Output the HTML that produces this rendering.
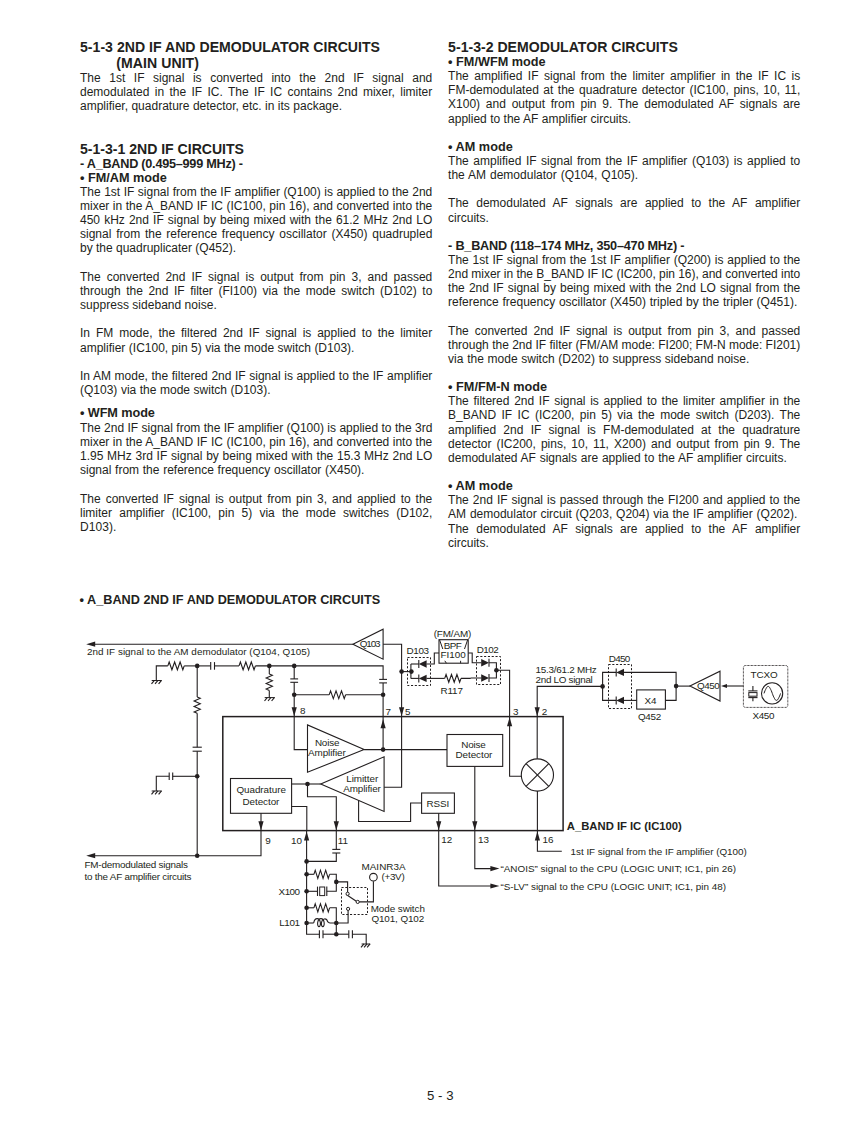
<!DOCTYPE html>
<html lang="en">
<head>
<meta charset="utf-8">
<title>5-1-3 2ND IF AND DEMODULATOR CIRCUITS</title>
<style>
html,body{margin:0;padding:0;background:#fff;}
body{width:841px;height:1122px;position:relative;overflow:hidden;font-family:"Liberation Sans",sans-serif;color:#231f20;}
.t{position:absolute;white-space:nowrap;line-height:1;margin:0;padding:0;}
svg{position:absolute;left:0;top:0;}
svg text{font-family:"Liberation Sans",sans-serif;font-size:9.89px;fill:#231f20;}
</style>
</head>
<body>
<div class="t" style="left:80.00px;top:39.56px;font-size:14.1px;font-weight:bold;letter-spacing:0.0100px;">5-1-3 2ND IF AND DEMODULATOR CIRCUITS</div>
<div class="t" style="left:116.20px;top:55.86px;font-size:14.1px;font-weight:bold;letter-spacing:0.0597px;">(MAIN UNIT)</div>
<div class="t" style="left:80.00px;top:72.04px;font-size:12.0px;word-spacing:5.223px;">The 1st IF signal is converted into the 2nd IF signal and</div>
<div class="t" style="left:80.00px;top:86.18px;font-size:12.0px;word-spacing:2.033px;">demodulated in the IF IC. The IF IC contains 2nd mixer, limiter</div>
<div class="t" style="left:80.00px;top:100.32px;font-size:12.0px;word-spacing:0.086px;">amplifier, quadrature detector, etc. in its package.</div>
<div class="t" style="left:80.00px;top:142.46px;font-size:14.1px;font-weight:bold;letter-spacing:-0.0206px;">5-1-3-1 2ND IF CIRCUITS</div>
<div class="t" style="left:80.00px;top:158.05px;font-size:12.7px;font-weight:bold;letter-spacing:-0.2581px;">- A_BAND (0.495–999 MHz) -</div>
<div class="t" style="left:80.00px;top:172.05px;font-size:12.7px;font-weight:bold;letter-spacing:-0.0006px;">• FM/AM mode</div>
<div class="t" style="left:80.00px;top:185.84px;font-size:12.0px;word-spacing:0.164px;">The 1st IF signal from the IF amplifier (Q100) is applied to the 2nd</div>
<div class="t" style="left:80.00px;top:200.00px;font-size:12.0px;word-spacing:0.176px;">mixer in the A_BAND IF IC (IC100, pin 16), and converted into the</div>
<div class="t" style="left:80.00px;top:214.16px;font-size:12.0px;word-spacing:0.778px;">450 kHz 2nd IF signal by being mixed with the 61.2 MHz 2nd LO</div>
<div class="t" style="left:80.00px;top:228.32px;font-size:12.0px;word-spacing:1.445px;">signal from the reference frequency oscillator (X450) quadrupled</div>
<div class="t" style="left:80.00px;top:242.48px;font-size:12.0px;letter-spacing:-0.0033px;">by the quadruplicater (Q452).</div>
<div class="t" style="left:80.00px;top:270.80px;font-size:12.0px;word-spacing:2.676px;">The converted 2nd IF signal is output from pin 3, and passed</div>
<div class="t" style="left:80.00px;top:284.96px;font-size:12.0px;word-spacing:2.195px;">through the 2nd IF filter (FI100) via the mode switch (D102) to</div>
<div class="t" style="left:80.00px;top:299.12px;font-size:12.0px;letter-spacing:0.0307px;">suppress sideband noise.</div>
<div class="t" style="left:80.00px;top:327.44px;font-size:12.0px;word-spacing:2.567px;">In FM mode, the filtered 2nd IF signal is applied to the limiter</div>
<div class="t" style="left:80.00px;top:341.60px;font-size:12.0px;word-spacing:0.118px;">amplifier (IC100, pin 5) via the mode switch (D103).</div>
<div class="t" style="left:80.00px;top:369.92px;font-size:12.0px;word-spacing:0.266px;">In AM mode, the filtered 2nd IF signal is applied to the IF amplifier</div>
<div class="t" style="left:80.00px;top:384.08px;font-size:12.0px;word-spacing:0.216px;">(Q103) via the mode switch (D103).</div>
<div class="t" style="left:80.00px;top:407.45px;font-size:12.7px;font-weight:bold;letter-spacing:-0.0806px;">• WFM mode</div>
<div class="t" style="left:80.00px;top:421.99px;font-size:12.0px;word-spacing:0.062px;">The 2nd IF signal from the IF amplifier (Q100) is applied to the 3rd</div>
<div class="t" style="left:80.00px;top:436.14px;font-size:12.0px;word-spacing:0.176px;">mixer in the A_BAND IF IC (IC100, pin 16), and converted into the</div>
<div class="t" style="left:80.00px;top:450.29px;font-size:12.0px;word-spacing:0.420px;">1.95 MHz 3rd IF signal by being mixed with the 15.3 MHz 2nd LO</div>
<div class="t" style="left:80.00px;top:464.44px;font-size:12.0px;word-spacing:0.377px;">signal from the reference frequency oscillator (X450).</div>
<div class="t" style="left:80.00px;top:492.74px;font-size:12.0px;word-spacing:1.619px;">The converted IF signal is output from pin 3, and applied to the</div>
<div class="t" style="left:80.00px;top:506.89px;font-size:12.0px;word-spacing:3.870px;">limiter amplifier (IC100, pin 5) via the mode switches (D102,</div>
<div class="t" style="left:80.00px;top:521.04px;font-size:12.0px;letter-spacing:0.0738px;">D103).</div>
<div class="t" style="left:448.10px;top:39.56px;font-size:14.1px;font-weight:bold;">5-1-3-2 DEMODULATOR CIRCUITS</div>
<div class="t" style="left:448.10px;top:55.79px;font-size:12.7px;font-weight:bold;">• FM/WFM mode</div>
<div class="t" style="left:448.10px;top:70.12px;font-size:12.0px;word-spacing:2.174px;">The amplified IF signal from the limiter amplifier in the IF IC is</div>
<div class="t" style="left:448.10px;top:84.26px;font-size:12.0px;word-spacing:1.193px;">FM-demodulated at the quadrature detector (IC100, pins, 10, 11,</div>
<div class="t" style="left:448.10px;top:98.40px;font-size:12.0px;word-spacing:2.422px;">X100) and output from pin 9. The demodulated AF signals are</div>
<div class="t" style="left:448.10px;top:112.54px;font-size:12.0px;word-spacing:0.070px;">applied to the AF amplifier circuits.</div>
<div class="t" style="left:448.10px;top:140.63px;font-size:12.7px;font-weight:bold;">• AM mode</div>
<div class="t" style="left:448.10px;top:154.96px;font-size:12.0px;word-spacing:1.217px;">The amplified IF signal from the IF amplifier (Q103) is applied to</div>
<div class="t" style="left:448.10px;top:169.10px;font-size:12.0px;word-spacing:0.616px;">the AM demodulator (Q104, Q105).</div>
<div class="t" style="left:448.10px;top:197.38px;font-size:12.0px;word-spacing:4.149px;">The demodulated AF signals are applied to the AF amplifier</div>
<div class="t" style="left:448.10px;top:211.52px;font-size:12.0px;">circuits.</div>
<div class="t" style="left:448.10px;top:239.61px;font-size:12.7px;font-weight:bold;letter-spacing:-0.2330px;">- B_BAND (118–174 MHz, 350–470 MHz) -</div>
<div class="t" style="left:448.10px;top:253.94px;font-size:12.0px;word-spacing:0.465px;">The 1st IF signal from the 1st IF amplifier (Q200) is applied to the</div>
<div class="t" style="left:448.10px;top:268.08px;font-size:12.0px;letter-spacing:-0.0311px;">2nd mixer in the B_BAND IF IC (IC200, pin 16), and converted into</div>
<div class="t" style="left:448.10px;top:282.22px;font-size:12.0px;word-spacing:0.769px;">the 2nd IF signal by being mixed with the 2nd LO signal from the</div>
<div class="t" style="left:448.10px;top:296.36px;font-size:12.0px;word-spacing:0.379px;">reference frequency oscillator (X450) tripled by the tripler (Q451).</div>
<div class="t" style="left:448.10px;top:324.64px;font-size:12.0px;word-spacing:2.667px;">The converted 2nd IF signal is output from pin 3, and passed</div>
<div class="t" style="left:448.10px;top:338.78px;font-size:12.0px;word-spacing:0.007px;">through the 2nd IF filter (FM/AM mode: FI200; FM-N mode: FI201)</div>
<div class="t" style="left:448.10px;top:352.92px;font-size:12.0px;word-spacing:0.379px;">via the mode switch (D202) to suppress sideband noise.</div>
<div class="t" style="left:448.10px;top:381.01px;font-size:12.7px;font-weight:bold;">• FM/FM-N mode</div>
<div class="t" style="left:448.10px;top:395.34px;font-size:12.0px;word-spacing:1.336px;">The filtered 2nd IF signal is applied to the limiter amplifier in the</div>
<div class="t" style="left:448.10px;top:409.48px;font-size:12.0px;word-spacing:2.086px;">B_BAND IF IC (IC200, pin 5) via the mode switch (D203). The</div>
<div class="t" style="left:448.10px;top:423.62px;font-size:12.0px;word-spacing:3.920px;">amplified 2nd IF signal is FM-demodulated at the quadrature</div>
<div class="t" style="left:448.10px;top:437.76px;font-size:12.0px;word-spacing:1.737px;">detector (IC200, pins, 10, 11, X200) and output from pin 9. The</div>
<div class="t" style="left:448.10px;top:451.90px;font-size:12.0px;word-spacing:0.428px;">demodulated AF signals are applied to the AF amplifier circuits.</div>
<div class="t" style="left:448.10px;top:479.99px;font-size:12.7px;font-weight:bold;">• AM mode</div>
<div class="t" style="left:448.10px;top:494.32px;font-size:12.0px;word-spacing:0.718px;">The 2nd IF signal is passed through the FI200 and applied to the</div>
<div class="t" style="left:448.10px;top:508.46px;font-size:12.0px;word-spacing:0.487px;">AM demodulator circuit (Q203, Q204) via the IF amplifier (Q202).</div>
<div class="t" style="left:448.10px;top:522.60px;font-size:12.0px;word-spacing:4.149px;">The demodulated AF signals are applied to the AF amplifier</div>
<div class="t" style="left:448.10px;top:536.74px;font-size:12.0px;">circuits.</div>
<div class="t" style="left:79.50px;top:594.25px;font-size:12.7px;font-weight:bold;letter-spacing:0.0030px;">• A_BAND 2ND IF AND DEMODULATOR CIRCUITS</div>
<div class="t" style="left:427.10px;top:1088.93px;font-size:13.2px;letter-spacing:0.0023px;">5 - 3</div>
<svg width="841" height="1122" viewBox="0 0 841 1122">
<polyline points="94,644.2 352.9,644.2" fill="none" stroke="#231f20" stroke-width="1.1" />
<polygon points="86.2,644.2 95.2,641.6 95.2,646.8" fill="#231f20" stroke="none" stroke-width="1.1" stroke-linejoin="miter"/>
<polygon points="352.9,644.2 383.1,629.2 383.1,659.2" fill="none" stroke="#231f20" stroke-width="1.1" stroke-linejoin="miter"/>
<text x="359.8" y="646.8" textLength="20.81" lengthAdjust="spacing">Q103</text>
<text x="87" y="655.1" textLength="222.98" lengthAdjust="spacing">2nd IF signal to the AM demodulator (Q104, Q105)</text>
<polyline points="383.1,644.2 401.6,644.2 401.6,787.3 384.1,787.3" fill="none" stroke="#231f20" stroke-width="1.1" />
<polygon points="401.6,716.3 399,707.3 404.2,707.3" fill="#231f20" stroke="none" stroke-width="1.1" stroke-linejoin="miter"/>
<polyline points="156.3,680.5 156.3,665.9 167.8,665.9" fill="none" stroke="#231f20" stroke-width="1.1" />
<polyline points="151.7,680.5 161.7,680.5" fill="none" stroke="#231f20" stroke-width="1.0" />
<polyline points="154.4,680.3 151.5,683.9" fill="none" stroke="#231f20" stroke-width="1.15" />
<polyline points="157.95,680.3 155.05,683.9" fill="none" stroke="#231f20" stroke-width="1.15" />
<polyline points="161.5,680.3 158.6,683.9" fill="none" stroke="#231f20" stroke-width="1.15" />
<polyline points="167.8,665.9 169.17,662 171.9,669.8 174.63,662 177.37,669.8 180.1,662 182.83,669.8 184.2,665.9" fill="none" stroke="#231f20" stroke-width="1.1" stroke-linejoin="miter"/>
<polyline points="184.2,665.9 210.7,665.9" fill="none" stroke="#231f20" stroke-width="1.1" />
<circle cx="197.2" cy="665.9" r="2.3" fill="#231f20"/>
<polyline points="210.7,662.1 210.7,669.7" fill="none" stroke="#231f20" stroke-width="1.1" />
<polyline points="214.5,662.1 214.5,669.7" fill="none" stroke="#231f20" stroke-width="1.1" />
<polyline points="214.5,665.9 239,665.9" fill="none" stroke="#231f20" stroke-width="1.1" />
<polyline points="239,665.9 240.37,662 243.1,669.8 245.83,662 248.57,669.8 251.3,662 254.03,669.8 255.4,665.9" fill="none" stroke="#231f20" stroke-width="1.1" stroke-linejoin="miter"/>
<polyline points="255.4,665.9 383.1,665.9 383.1,679.4" fill="none" stroke="#231f20" stroke-width="1.1" />
<circle cx="269.3" cy="665.9" r="2.3" fill="#231f20"/>
<circle cx="294.2" cy="665.9" r="2.3" fill="#231f20"/>
<polyline points="269.3,665.9 269.3,674" fill="none" stroke="#231f20" stroke-width="1.1" />
<polyline points="269.3,674 272.4,675.37 266.2,678.1 272.4,680.83 266.2,683.57 272.4,686.3 266.2,689.03 269.3,690.4" fill="none" stroke="#231f20" stroke-width="1.1" stroke-linejoin="miter"/>
<polyline points="269.3,690.4 269.3,697.6" fill="none" stroke="#231f20" stroke-width="1.1" />
<polyline points="264.7,697.6 274.7,697.6" fill="none" stroke="#231f20" stroke-width="1.0" />
<polyline points="267.4,697.4 264.5,701" fill="none" stroke="#231f20" stroke-width="1.15" />
<polyline points="270.95,697.4 268.05,701" fill="none" stroke="#231f20" stroke-width="1.15" />
<polyline points="274.5,697.4 271.6,701" fill="none" stroke="#231f20" stroke-width="1.15" />
<polyline points="294.2,665.9 294.2,678.9" fill="none" stroke="#231f20" stroke-width="1.1" />
<polyline points="290.3,678.9 298.1,678.9" fill="none" stroke="#231f20" stroke-width="1.1" />
<polyline points="290.3,682.3 298.1,682.3" fill="none" stroke="#231f20" stroke-width="1.1" />
<polyline points="294.2,682.3 294.2,749.6 307.5,749.6" fill="none" stroke="#231f20" stroke-width="1.1" />
<circle cx="294.2" cy="694.7" r="2.3" fill="#231f20"/>
<polygon points="294.2,716.3 291.6,707.3 296.8,707.3" fill="#231f20" stroke="none" stroke-width="1.1" stroke-linejoin="miter"/>
<polyline points="294.2,694.7 329.2,694.7" fill="none" stroke="#231f20" stroke-width="1.1" />
<polyline points="329.2,694.7 330.57,690.8 333.3,698.6 336.03,690.8 338.77,698.6 341.5,690.8 344.23,698.6 345.6,694.7" fill="none" stroke="#231f20" stroke-width="1.1" stroke-linejoin="miter"/>
<polyline points="345.6,694.7 383.1,694.7" fill="none" stroke="#231f20" stroke-width="1.1" />
<circle cx="383.1" cy="694.7" r="2.3" fill="#231f20"/>
<polyline points="379.2,679.4 387,679.4" fill="none" stroke="#231f20" stroke-width="1.1" />
<polyline points="379.2,682.9 387,682.9" fill="none" stroke="#231f20" stroke-width="1.1" />
<polyline points="383.1,682.9 383.1,749.6" fill="none" stroke="#231f20" stroke-width="1.1" />
<polygon points="383.1,719.2 380.5,728.2 385.7,728.2" fill="#231f20" stroke="none" stroke-width="1.1" stroke-linejoin="miter"/>
<polyline points="197.2,665.9 197.2,696.9" fill="none" stroke="#231f20" stroke-width="1.1" />
<polyline points="197.2,696.9 200.3,698.27 194.1,701 200.3,703.73 194.1,706.47 200.3,709.2 194.1,711.93 197.2,713.3" fill="none" stroke="#231f20" stroke-width="1.1" stroke-linejoin="miter"/>
<polyline points="197.2,713.3 197.2,747.2" fill="none" stroke="#231f20" stroke-width="1.1" />
<polyline points="192.6,747.2 201.8,747.2" fill="none" stroke="#231f20" stroke-width="1.1" />
<polyline points="192.6,751.2 201.8,751.2" fill="none" stroke="#231f20" stroke-width="1.1" />
<polyline points="197.2,751.2 197.2,855.7" fill="none" stroke="#231f20" stroke-width="1.1" />
<circle cx="197.2" cy="776.3" r="2.3" fill="#231f20"/>
<circle cx="197.2" cy="855.7" r="2.3" fill="#231f20"/>
<polyline points="197.2,776.3 172.7,776.3" fill="none" stroke="#231f20" stroke-width="1.1" />
<polyline points="169.2,772.5 169.2,780.1" fill="none" stroke="#231f20" stroke-width="1.1" />
<polyline points="172.7,772.5 172.7,780.1" fill="none" stroke="#231f20" stroke-width="1.1" />
<polyline points="169.2,776.3 156.3,776.3 156.3,791" fill="none" stroke="#231f20" stroke-width="1.1" />
<polyline points="151.7,791 161.7,791" fill="none" stroke="#231f20" stroke-width="1.0" />
<polyline points="154.4,790.8 151.5,794.4" fill="none" stroke="#231f20" stroke-width="1.15" />
<polyline points="157.95,790.8 155.05,794.4" fill="none" stroke="#231f20" stroke-width="1.15" />
<polyline points="161.5,790.8 158.6,794.4" fill="none" stroke="#231f20" stroke-width="1.15" />
<polyline points="94,855.7 261,855.7 261,830.6" fill="none" stroke="#231f20" stroke-width="1.1" />
<polygon points="86.2,855.7 95.2,853.1 95.2,858.3" fill="#231f20" stroke="none" stroke-width="1.1" stroke-linejoin="miter"/>
<text x="84.5" y="868.1" textLength="103.5" lengthAdjust="spacing">FM-demodulated signals</text>
<text x="84.5" y="880.1" textLength="107" lengthAdjust="spacing">to the AF amplifier circuits</text>
<rect x="222.8" y="716.6" width="340.3" height="114" fill="none" stroke="#231f20" stroke-width="1.5" />
<text x="566.8" y="830.1" textLength="115.08" lengthAdjust="spacing" font-weight="bold" style="font-size:11.3px">A_BAND IF IC (IC100)</text>
<text x="300" y="713.6">8</text>
<text x="385.6" y="714.6">7</text>
<text x="405" y="714.6">5</text>
<text x="513.1" y="715">3</text>
<text x="541.8" y="715">2</text>
<text x="265.3" y="843.7">9</text>
<text x="291" y="844">10</text>
<text x="337.8" y="844">11</text>
<text x="441.2" y="843.2">12</text>
<text x="477.9" y="843.2">13</text>
<text x="542.6" y="843.2">16</text>
<rect x="230.5" y="778.5" width="61.1" height="34.8" fill="none" stroke="#231f20" stroke-width="1.1" />
<text x="236.4" y="792.8" textLength="49.51" lengthAdjust="spacing">Quadrature</text>
<text x="242.5" y="804.8" textLength="36.88" lengthAdjust="spacing">Detector</text>
<polyline points="261,813.2 261,830.6" fill="none" stroke="#231f20" stroke-width="1.1" />
<polygon points="261,830.3 258.4,821.3 263.6,821.3" fill="#231f20" stroke="none" stroke-width="1.1" stroke-linejoin="miter"/>
<polyline points="291.6,784 320.7,784" fill="none" stroke="#231f20" stroke-width="1.1" />
<circle cx="307.5" cy="784" r="2.3" fill="#231f20"/>
<polyline points="307.5,784 307.5,796.8 336.3,796.8 336.3,830.6" fill="none" stroke="#231f20" stroke-width="1.1" />
<polygon points="336.3,830.3 333.7,821.3 338.9,821.3" fill="#231f20" stroke="none" stroke-width="1.1" stroke-linejoin="miter"/>
<polyline points="291.6,806.5 306.8,806.5 306.8,830.6" fill="none" stroke="#231f20" stroke-width="1.1" />
<polygon points="307.5,724.9 307.5,772.3 364.1,749.6" fill="none" stroke="#231f20" stroke-width="1.1" stroke-linejoin="miter"/>
<text x="314.9" y="745.7" textLength="24.51" lengthAdjust="spacing">Noise</text>
<text x="308" y="756" textLength="37.68" lengthAdjust="spacing">Amplifier</text>
<polyline points="364.1,749.6 447,749.6" fill="none" stroke="#231f20" stroke-width="1.1" />
<circle cx="383.1" cy="749.6" r="2.3" fill="#231f20"/>
<polygon points="384.1,756.8 384.1,811.5 320.7,784" fill="none" stroke="#231f20" stroke-width="1.1" stroke-linejoin="miter"/>
<text x="346.2" y="781.6" textLength="31.98" lengthAdjust="spacing">Limitter</text>
<text x="343.2" y="791.9" textLength="37.68" lengthAdjust="spacing">Amplifier</text>
<rect x="421.6" y="793" width="32.8" height="20.3" fill="none" stroke="#231f20" stroke-width="1.1" />
<text x="426.6" y="807.1" textLength="22.68" lengthAdjust="spacing">RSSI</text>
<polyline points="358.6,800.5 358.6,821.5 410.6,821.5 410.6,803 421.6,803" fill="none" stroke="#231f20" stroke-width="1.1" />
<polyline points="438.7,813.3 438.7,886 491,886" fill="none" stroke="#231f20" stroke-width="1.1" />
<polygon points="438.7,830.3 436.1,821.3 441.3,821.3" fill="#231f20" stroke="none" stroke-width="1.1" stroke-linejoin="miter"/>
<polygon points="499.4,886 490.4,883.4 490.4,888.6" fill="#231f20" stroke="none" stroke-width="1.1" stroke-linejoin="miter"/>
<rect x="447" y="734.5" width="55.7" height="31.9" fill="none" stroke="#231f20" stroke-width="1.1" />
<text x="461.2" y="747.9" textLength="24.51" lengthAdjust="spacing">Noise</text>
<text x="455.5" y="758.1" textLength="36.88" lengthAdjust="spacing">Detector</text>
<polyline points="474.8,766.4 474.8,868.6 491,868.6" fill="none" stroke="#231f20" stroke-width="1.1" />
<polygon points="474.8,830.3 472.2,821.3 477.4,821.3" fill="#231f20" stroke="none" stroke-width="1.1" stroke-linejoin="miter"/>
<polygon points="499.4,868.6 490.4,866 490.4,871.2" fill="#231f20" stroke="none" stroke-width="1.1" stroke-linejoin="miter"/>
<text x="500.4" y="872.2" textLength="235.68" lengthAdjust="spacing">“ANOIS” signal to the CPU (LOGIC UNIT; IC1, pin 26)</text>
<text x="500.4" y="890.1" textLength="225.68" lengthAdjust="spacing">“S-LV” signal to the CPU (LOGIC UNIT; IC1, pin 48)</text>
<polyline points="537.2,758.8 537.2,686.4 602.6,686.4" fill="none" stroke="#231f20" stroke-width="1.1" />
<polygon points="537.2,716.3 534.6,707.3 539.8,707.3" fill="#231f20" stroke="none" stroke-width="1.1" stroke-linejoin="miter"/>
<circle cx="537.4" cy="775" r="16.1" fill="none" stroke="#231f20" stroke-width="1.1"/>
<polyline points="526.02,763.62 548.78,786.38" fill="none" stroke="#231f20" stroke-width="1.1" />
<polyline points="526.02,786.38 548.78,763.62" fill="none" stroke="#231f20" stroke-width="1.1" />
<polyline points="521.3,776.2 509.6,776.2 509.6,670.2 496.4,670.2" fill="none" stroke="#231f20" stroke-width="1.1" />
<polygon points="509.6,717.2 507,726.2 512.2,726.2" fill="#231f20" stroke="none" stroke-width="1.1" stroke-linejoin="miter"/>
<polyline points="537.4,791.1 537.4,851.3 561.8,851.3" fill="none" stroke="#231f20" stroke-width="1.1" />
<polygon points="537.4,831.5 534.8,840.5 540,840.5" fill="#231f20" stroke="none" stroke-width="1.1" stroke-linejoin="miter"/>
<text x="570.6" y="854.7" textLength="176.18" lengthAdjust="spacing">1st IF signal from the IF amplifier (Q100)</text>
<polyline points="401.6,671.6 411.2,671.6" fill="none" stroke="#231f20" stroke-width="1.1" />
<circle cx="401.6" cy="671.6" r="2.3" fill="#231f20"/>
<circle cx="411.4" cy="671.6" r="2.3" fill="#231f20"/>
<polyline points="410.9,664 410.9,678.4" fill="none" stroke="#231f20" stroke-width="1.1" />
<rect x="407.5" y="657.5" width="23" height="28" fill="none" stroke="#231f20" stroke-width="1.0" stroke-dasharray="2.1 1.7"/>
<polyline points="410.9,664 418.8,664" fill="none" stroke="#231f20" stroke-width="1.1" />
<polyline points="418.8,660 418.8,668" fill="none" stroke="#231f20" stroke-width="1.1" />
<polygon points="418.8,664 426.6,660.3 426.6,667.7" fill="#231f20" stroke="none" stroke-width="1.1" stroke-linejoin="miter"/>
<polyline points="410.9,678.4 418.8,678.4" fill="none" stroke="#231f20" stroke-width="1.1" />
<polyline points="418.8,674.4 418.8,682.4" fill="none" stroke="#231f20" stroke-width="1.1" />
<polygon points="418.8,678.4 426.6,674.7 426.6,682.1" fill="#231f20" stroke="none" stroke-width="1.1" stroke-linejoin="miter"/>
<polyline points="426.5,664 434.3,664 434.3,653 439,653" fill="none" stroke="#231f20" stroke-width="1.1" />
<polyline points="426.5,678.4 444.7,678.4" fill="none" stroke="#231f20" stroke-width="1.1" />
<polyline points="444.7,678.4 446.06,674.5 448.77,682.3 451.49,674.5 454.21,682.3 456.93,674.5 459.64,682.3 461,678.4" fill="none" stroke="#231f20" stroke-width="1.1" stroke-linejoin="miter"/>
<polyline points="461,678.4 470,678.4 471,678 481.4,678" fill="none" stroke="#231f20" stroke-width="1.1" />
<text x="406.6" y="653.5" textLength="22.41" lengthAdjust="spacing">D103</text>
<text x="440.6" y="693.5" textLength="22.31" lengthAdjust="spacing">R117</text>
<rect x="439" y="639.7" width="29.2" height="23.5" fill="none" stroke="#231f20" stroke-width="1.1" />
<text x="433.7" y="637.2" textLength="37.58" lengthAdjust="spacing">(FM/AM)</text>
<text x="443.7" y="648.9" textLength="18.21" lengthAdjust="spacing">BPF</text>
<text x="440.5" y="658.1" textLength="25.31" lengthAdjust="spacing">FI100</text>
<polyline points="439.5,639.7 442.8,649" fill="none" stroke="#231f20" stroke-width="1.0" />
<polyline points="467.7,639.7 464.5,649" fill="none" stroke="#231f20" stroke-width="1.0" />
<polyline points="444.8,660.8 446.4,663.2" fill="none" stroke="#231f20" stroke-width="1.0" />
<polyline points="460.6,660.8 460.6,663.2" fill="none" stroke="#231f20" stroke-width="1.0" />
<polyline points="468.2,653 472.2,653 472.2,662.8 481.4,662.8" fill="none" stroke="#231f20" stroke-width="1.1" />
<rect x="476.5" y="656.5" width="24" height="28" fill="none" stroke="#231f20" stroke-width="1.0" stroke-dasharray="2.1 1.7"/>
<polyline points="489,658.8 489,666.8" fill="none" stroke="#231f20" stroke-width="1.1" />
<polygon points="489,662.8 481.2,659.1 481.2,666.5" fill="#231f20" stroke="none" stroke-width="1.1" stroke-linejoin="miter"/>
<polyline points="489,674 489,682" fill="none" stroke="#231f20" stroke-width="1.1" />
<polygon points="489,678 481.2,674.3 481.2,681.7" fill="#231f20" stroke="none" stroke-width="1.1" stroke-linejoin="miter"/>
<polyline points="489,662.8 496.4,662.8 496.4,678 489,678" fill="none" stroke="#231f20" stroke-width="1.1" />
<circle cx="496.4" cy="670.2" r="2.3" fill="#231f20"/>
<text x="476.7" y="652.5" textLength="22.11" lengthAdjust="spacing">D102</text>
<text x="535.6" y="673" textLength="61.2" lengthAdjust="spacing">15.3/61.2 MHz</text>
<text x="535.6" y="683" textLength="57.22" lengthAdjust="spacing">2nd LO signal</text>
<circle cx="602.6" cy="686.4" r="2.3" fill="#231f20"/>
<polyline points="616.2,672.4 602.6,672.4 602.6,700.4 616.2,700.4" fill="none" stroke="#231f20" stroke-width="1.1" />
<rect x="608.5" y="664.5" width="23" height="44" fill="none" stroke="#231f20" stroke-width="1.0" stroke-dasharray="2.1 1.7"/>
<polyline points="616.2,668.4 616.2,676.4" fill="none" stroke="#231f20" stroke-width="1.1" />
<polygon points="616.2,672.4 624,668.7 624,676.1" fill="#231f20" stroke="none" stroke-width="1.1" stroke-linejoin="miter"/>
<polyline points="616.2,696.4 616.2,704.4" fill="none" stroke="#231f20" stroke-width="1.1" />
<polygon points="616.2,700.4 624,696.7 624,704.1" fill="#231f20" stroke="none" stroke-width="1.1" stroke-linejoin="miter"/>
<polyline points="623.7,672.4 676.1,672.4 676.1,700.4 665.4,700.4" fill="none" stroke="#231f20" stroke-width="1.1" />
<polyline points="623.7,700.4 636.7,700.4" fill="none" stroke="#231f20" stroke-width="1.1" />
<rect x="636.7" y="689.9" width="28.7" height="19.2" fill="none" stroke="#231f20" stroke-width="1.1" />
<text x="644.4" y="703.6">X4</text>
<text x="637.9" y="720" textLength="23.31" lengthAdjust="spacing">Q452</text>
<text x="608.7" y="661.7" textLength="21.51" lengthAdjust="spacing">D450</text>
<circle cx="676.1" cy="686.1" r="2.3" fill="#231f20"/>
<polyline points="676.1,686.1 689.9,686.1" fill="none" stroke="#231f20" stroke-width="1.1" />
<polygon points="689.9,686.1 720,671.2 720,701.1" fill="none" stroke="#231f20" stroke-width="1.1" stroke-linejoin="miter"/>
<text x="696.9" y="688.9" textLength="22.81" lengthAdjust="spacing">Q450</text>
<polyline points="726,686 743.4,686" fill="none" stroke="#231f20" stroke-width="1.1" />
<polygon points="721,686 727,684 727,688" fill="#231f20" stroke="none" stroke-width="1.1" stroke-linejoin="miter"/>
<rect x="743.4" y="665.5" width="44.4" height="41.9" fill="none" stroke="#231f20" stroke-width="1.0" rx="2" stroke-dasharray="0.75 0.65"/>
<text x="750.4" y="677.9" textLength="27.38" lengthAdjust="spacing">TCXO</text>
<text x="752.6" y="718.7" textLength="21.81" lengthAdjust="spacing">X450</text>
<circle cx="772.1" cy="693.4" r="10.6" fill="none" stroke="#231f20" stroke-width="1.1"/>
<polyline points="764.0,693.4 764.5,692.0 765.0,690.7 765.6,689.5 766.1,688.5 766.6,687.6 767.1,686.9 767.6,686.5 768.1,686.4 768.7,686.5 769.2,686.9 769.7,687.6 770.2,688.5 770.7,689.5 771.3,690.7 771.8,692.0 772.3,693.4 772.8,694.8 773.3,696.1 773.9,697.3 774.4,698.3 774.9,699.2 775.4,699.9 775.9,700.3 776.5,700.4 777.0,700.3 777.5,699.9 778.0,699.2 778.5,698.3 779.0,697.3 779.6,696.1 780.1,694.8 780.6,693.4" fill="none" stroke="#231f20" stroke-width="1"/>
<polyline points="752.9,685.9 752.9,690.9" fill="none" stroke="#231f20" stroke-width="1.1" />
<polyline points="748.3,690.9 757.5,690.9" fill="none" stroke="#231f20" stroke-width="1.1" />
<rect x="748.8" y="692.6" width="8.2" height="3.6" fill="none" stroke="#231f20" stroke-width="1.0" />
<polyline points="748.3,697.6 757.5,697.6" fill="none" stroke="#231f20" stroke-width="1.1" />
<polyline points="752.9,697.6 752.9,701.3" fill="none" stroke="#231f20" stroke-width="1.1" />
<polyline points="306.6,830.6 306.6,934.2 319.4,934.2" fill="none" stroke="#231f20" stroke-width="1.1" />
<polygon points="306.6,831.5 304,840.5 309.2,840.5" fill="#231f20" stroke="none" stroke-width="1.1" stroke-linejoin="miter"/>
<polyline points="336.3,830.6 336.3,849.4" fill="none" stroke="#231f20" stroke-width="1.1" />
<polyline points="332.3,849.4 340.3,849.4" fill="none" stroke="#231f20" stroke-width="1.1" />
<polyline points="332.3,853 340.3,853" fill="none" stroke="#231f20" stroke-width="1.1" />
<polyline points="336.3,853 336.3,861.4 306.6,861.4" fill="none" stroke="#231f20" stroke-width="1.1" />
<circle cx="306.6" cy="861.4" r="2.3" fill="#231f20"/>
<circle cx="306.6" cy="874.3" r="2.3" fill="#231f20"/>
<circle cx="306.6" cy="891.3" r="2.3" fill="#231f20"/>
<circle cx="306.6" cy="907.8" r="2.3" fill="#231f20"/>
<circle cx="306.6" cy="923" r="2.3" fill="#231f20"/>
<polyline points="306.6,874.3 313.9,874.3" fill="none" stroke="#231f20" stroke-width="1.1" />
<polyline points="313.9,874.3 315.21,870.2 317.82,878.4 320.44,870.2 323.06,878.4 325.68,870.2 328.29,878.4 329.6,874.3" fill="none" stroke="#231f20" stroke-width="1.1" stroke-linejoin="miter"/>
<polyline points="329.6,874.3 336.3,874.3 336.3,891.3 326.8,891.3" fill="none" stroke="#231f20" stroke-width="1.1" />
<circle cx="336.3" cy="881.9" r="2.3" fill="#231f20"/>
<polyline points="306.6,891.3 317.5,891.3" fill="none" stroke="#231f20" stroke-width="1.1" />
<polyline points="317.5,886.6 317.5,896" fill="none" stroke="#231f20" stroke-width="1.1" />
<rect x="319.7" y="887" width="5" height="8.6" fill="none" stroke="#231f20" stroke-width="1.0" />
<polyline points="326.8,886.6 326.8,896" fill="none" stroke="#231f20" stroke-width="1.1" />
<polyline points="336.3,881.9 347.6,881.9 347.6,892.2" fill="none" stroke="#231f20" stroke-width="1.1" />
<polyline points="306.6,907.8 313.9,907.8" fill="none" stroke="#231f20" stroke-width="1.1" />
<polyline points="313.9,907.8 315.21,903.7 317.82,911.9 320.44,903.7 323.06,911.9 325.68,903.7 328.29,911.9 329.6,907.8" fill="none" stroke="#231f20" stroke-width="1.1" stroke-linejoin="miter"/>
<polyline points="329.6,907.8 336.3,907.8 336.3,934.2" fill="none" stroke="#231f20" stroke-width="1.1" />
<polyline points="306.6,923 313.7,923" fill="none" stroke="#231f20" stroke-width="1.1" />
<path d="M313.7,923 C314.6,917.2 319.8,917.2 320.4,923 C320.6,927.8 317.4,927.8 317.6,923 C318.3,917.2 323.6,917.2 324.2,923 C324.4,927.8 321.2,927.8 321.4,923 C322.2,917.8 326.6,917.8 327.6,921.6 L329.6,923" fill="none" stroke="#231f20" stroke-width="1.1"/>
<polyline points="329.6,923 348.1,923 348.1,910.6" fill="none" stroke="#231f20" stroke-width="1.1" />
<circle cx="336.3" cy="923" r="2.3" fill="#231f20"/>
<polyline points="319.4,930.2 319.4,938.2" fill="none" stroke="#231f20" stroke-width="1.1" />
<polyline points="323,930.2 323,938.2" fill="none" stroke="#231f20" stroke-width="1.1" />
<polyline points="323,934.2 348.8,934.2" fill="none" stroke="#231f20" stroke-width="1.1" />
<circle cx="336.3" cy="934.2" r="2.3" fill="#231f20"/>
<polyline points="348.8,930.2 348.8,938.2" fill="none" stroke="#231f20" stroke-width="1.1" />
<polyline points="352.4,930.2 352.4,938.2" fill="none" stroke="#231f20" stroke-width="1.1" />
<polyline points="352.4,934.2 366.2,934.2 366.2,944" fill="none" stroke="#231f20" stroke-width="1.1" />
<polyline points="361.6,944 370.2,944" fill="none" stroke="#231f20" stroke-width="1.0" />
<polyline points="363.92,943.8 361.02,947.4" fill="none" stroke="#231f20" stroke-width="1.15" />
<polyline points="366.98,943.8 364.08,947.4" fill="none" stroke="#231f20" stroke-width="1.15" />
<polyline points="370.03,943.8 367.13,947.4" fill="none" stroke="#231f20" stroke-width="1.15" />
<rect x="341.5" y="887.5" width="26" height="27" fill="none" stroke="#231f20" stroke-width="1.0" stroke-dasharray="2.1 1.7"/>
<polyline points="346.6,894.8 356.3,901.3" fill="none" stroke="#231f20" stroke-width="1.1" />
<circle cx="347.6" cy="893.8" r="1.6" fill="#fff" stroke="#231f20" stroke-width="1.0"/>
<circle cx="348.1" cy="908.9" r="1.6" fill="#fff" stroke="#231f20" stroke-width="1.0"/>
<circle cx="357.7" cy="901.9" r="1.6" fill="#fff" stroke="#231f20" stroke-width="1.0"/>
<polyline points="359.3,901.9 373.4,901.9 373.4,881.3" fill="none" stroke="#231f20" stroke-width="1.1" />
<circle cx="373.4" cy="877.2" r="3.8" fill="#fff" stroke="#231f20" stroke-width="1.1"/>
<text x="361.5" y="869.9" textLength="44.07" lengthAdjust="spacing">MAINR3A</text>
<text x="381.5" y="879.7" textLength="23.18" lengthAdjust="spacing">(+3V)</text>
<text x="370.7" y="911.7" textLength="54.21" lengthAdjust="spacing">Mode switch</text>
<text x="371.4" y="921.6" textLength="52.81" lengthAdjust="spacing">Q101, Q102</text>
<text x="278.6" y="894.5" textLength="21.41" lengthAdjust="spacing">X100</text>
<text x="279.3" y="925.8" textLength="20.71" lengthAdjust="spacing">L101</text>
</svg>
</body>
</html>
